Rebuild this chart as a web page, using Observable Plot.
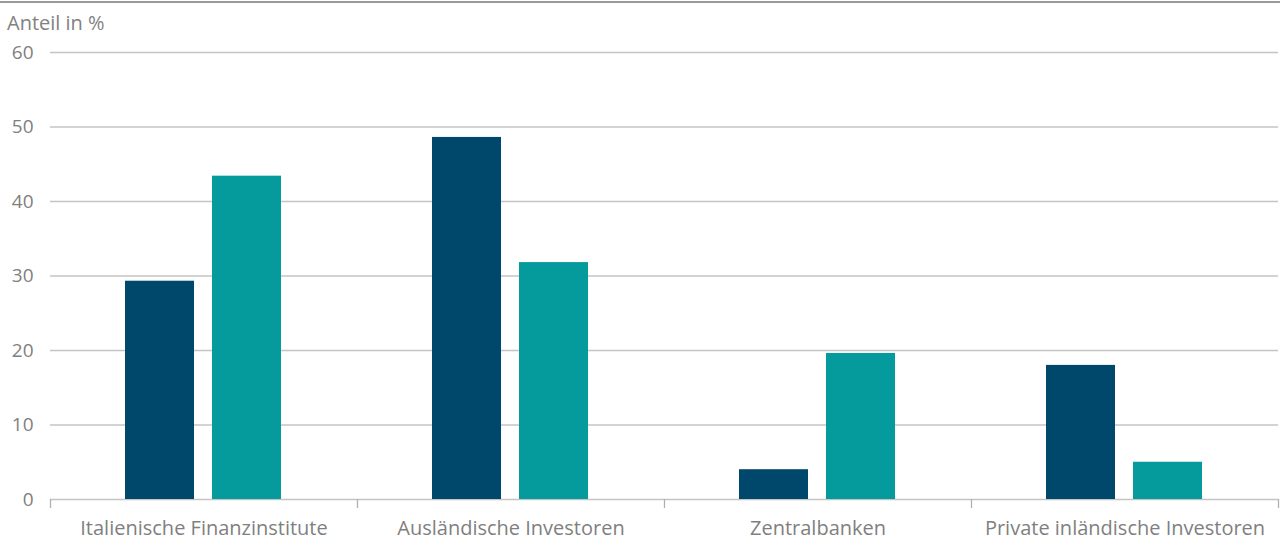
<!DOCTYPE html>
<html>
<head>
<meta charset="utf-8">
<script src="https://cdn.jsdelivr.net/npm/d3@7"></script>
<script src="https://cdn.jsdelivr.net/npm/@observablehq/plot@0.6"></script>
<style>
  html, body { margin: 0; padding: 0; background: #fff; }
  #wrap { width: 1280px; height: 540px; overflow: hidden; font-family: "Open Sans", sans-serif; }
  #toprule { margin-top: 1px; border-top: 2px solid #9a9a9a; height: 0; }
  #title { padding: 9px 0 0 7px; height: 22px; line-height: 22px; font-size: 20px; color: #828282; }
  svg { display: block; }
</style>
</head>
<body>
<div id="wrap">
  <div id="toprule"></div>
  <div id="title">Anteil in %</div>
  <div id="chart"></div>
</div>
<script>
const categories = ["Italienische Finanzinstitute", "Ausländische Investoren", "Zentralbanken", "Private inländische Investoren"];
const seriesNames = ["Serie 1", "Serie 2"];
const valuesSerie1 = [29.3, 48.6, 4.0, 18.0];
const valuesSerie2 = [43.4, 31.8, 19.6, 5.0];
const yTicks = [0, 10, 20, 30, 40, 50, 60];
const seriesColors = ["#00486b", "#059a9c"];

const data = [];
categories.forEach((c, i) => {
  data.push({category: c, series: seriesNames[0], value: valuesSerie1[i]});
  data.push({category: c, series: seriesNames[1], value: valuesSerie2[i]});
});

const chart = Plot.plot({
  width: 1280,
  height: 506,
  marginLeft: 49,
  marginRight: 2,
  marginTop: 18,
  marginBottom: 41,
  style: {fontFamily: "'Open Sans', sans-serif", fontSize: "19px", color: "#7f7f7f", background: "white", overflow: "visible"},
  fx: {domain: categories, padding: 0, label: null, axis: "bottom", tickSize: 0, tickPadding: 21},
  x: {domain: seriesNames, paddingInner: 0.2045, paddingOuter: 0.852, axis: null},
  y: {domain: [0, 60], ticks: yTicks, tickSize: 0, tickPadding: 17, label: null},
  color: {domain: seriesNames, range: seriesColors},
  marks: [
    Plot.ruleY(yTicks, {stroke: "#c4c4c4", strokeWidth: 1.3}),
    Plot.barY(data, {fx: "category", x: "series", y: "value", fill: "series"})
  ]
});

document.getElementById("chart").appendChild(chart);

// larger category labels
d3.select(chart).selectAll('[aria-label^="fx-axis"] text').style("font-size", "20px");

// boundary ticks below the baseline, derived from the fx and y scales
const fx = chart.scale("fx");
const ys = chart.scale("y");
const bounds = fx.domain.map(d => fx.apply(d));
bounds.push(fx.apply(fx.domain[fx.domain.length - 1]) + fx.bandwidth);
const y0 = ys.apply(0);
d3.select(chart).append("g")
  .attr("stroke", "#b0b0b0")
  .attr("stroke-width", 1.3)
  .selectAll("line")
  .data(bounds)
  .join("line")
  .attr("x1", d => d + 0.5)
  .attr("x2", d => d + 0.5)
  .attr("y1", y0)
  .attr("y2", y0 + 9);
</script>
</body>
</html>
